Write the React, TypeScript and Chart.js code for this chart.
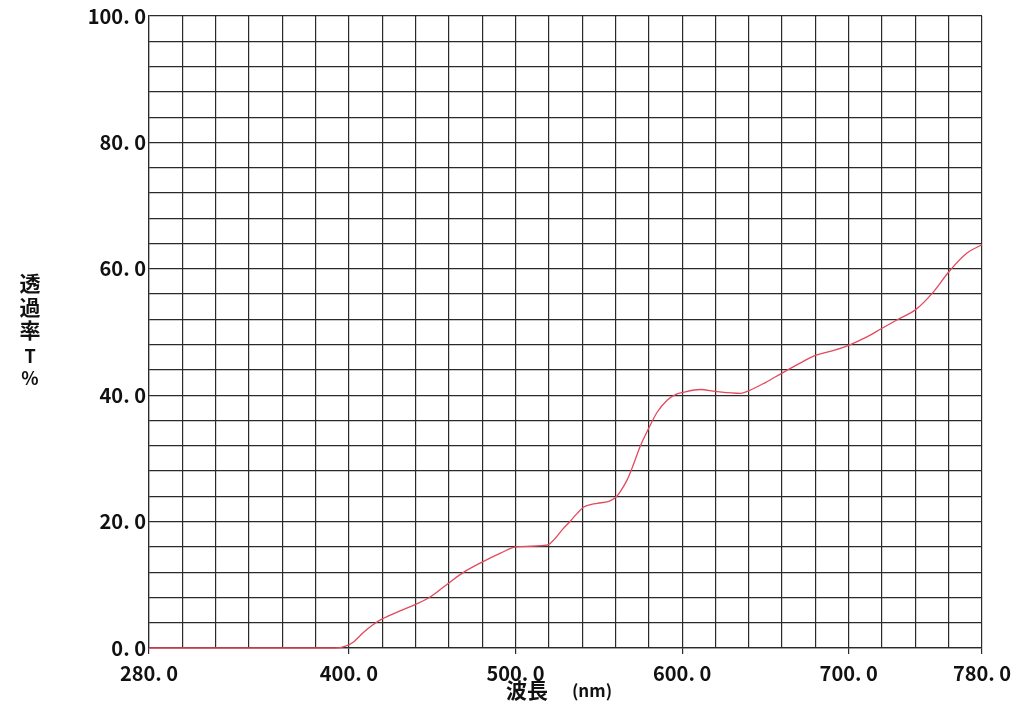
import { useEffect, useRef } from "react";
import { Chart, registerables } from "chart.js";

Chart.register(...registerables);

const wavelengths = [280, 300, 340, 380, 392, 398, 403, 408, 414, 420, 430, 440, 449, 460, 469, 480, 491, 500, 509, 516, 520, 524, 528, 533, 537, 541, 545, 549, 556, 560, 563, 567, 570, 575, 580, 585, 591, 596, 600, 611, 620, 635, 640, 650, 660, 673, 680, 690, 700, 710, 720, 731, 740, 751, 760, 771, 780];
const transmittance = [0, 0, 0, 0, 0, 0.3, 1.0, 2.3, 3.6, 4.6, 5.8, 6.9, 8.1, 10.3, 12.0, 13.6, 15.0, 16.0, 16.1, 16.2, 16.4, 17.4, 18.7, 20.1, 21.3, 22.3, 22.7, 22.9, 23.2, 23.8, 24.8, 26.6, 28.5, 32.0, 34.8, 37.3, 39.2, 40.1, 40.4, 40.9, 40.6, 40.3, 40.7, 42.0, 43.5, 45.4, 46.3, 47.0, 47.9, 49.1, 50.6, 52.2, 53.5, 56.4, 59.5, 62.5, 63.8];

const xLabelTicks = [280, 400, 500, 600, 700, 780];
const yLabelTicks = [0, 20, 40, 60, 80, 100];
const yTitleChars = ["透", "過", "率", "T", "%"];
const xTitleMain = "波長";
const xTitleUnit = "(nm)";

const FONT = "'Noto Sans CJK JP', 'Noto Sans', sans-serif";
const GRID = "#2a2a2a";

const fmt = (v: number) => `${v}. 0`;

const titlePlugin = {
  id: "titles",
  afterDraw(chart: any) {
    const ctx = chart.ctx;
    ctx.save();
    ctx.fillStyle = "#111";
    ctx.textAlign = "center";
    ctx.textBaseline = "middle";
    const ys = [283, 307, 330, 356, 378];
    yTitleChars.forEach((c, i) => {
      const big = i < 3;
      ctx.font = `bold ${big ? 21 : 18}px ${FONT}`;
      ctx.fillText(c, 30, ys[i]);
    });
    ctx.font = `bold 21px ${FONT}`;
    ctx.fillText(xTitleMain, 527, 690);
    ctx.font = `bold 17px ${FONT}`;
    ctx.fillText(xTitleUnit, 592, 691);
    ctx.restore();
  },
};

export default function App() {
  const ref = useRef<HTMLCanvasElement | null>(null);
  useEffect(() => {
    if (!ref.current) return;
    const chart = new Chart(ref.current, {
      type: "line",
      data: {
        datasets: [
          {
            data: wavelengths.map((w, i) => ({ x: w, y: transmittance[i] })),
            borderColor: "#e5485c",
            borderWidth: 1.3,
            pointRadius: 0,
            cubicInterpolationMode: "monotone",
            clip: 5,
          } as any,
        ],
      },
      options: {
        animation: false,
        responsive: false,
        plugins: { legend: { display: false }, tooltip: { enabled: false } },
        layout: { padding: { left: 0, right: 47, top: 16, bottom: 0 } },
        scales: {
          x: {
            type: "linear",
            min: 280,
            max: 780,
            afterFit: (s: any) => {
              s.height = 60;
            },
            ticks: {
              stepSize: 20,
              autoSkip: false,
              maxRotation: 0,
              padding: 7,
              color: "#111",
              font: { family: FONT, size: 20, weight: 600 as any },
              callback: (v: any) => (xLabelTicks.includes(Number(v)) ? fmt(Number(v)) : ""),
            },
            grid: {
              color: GRID,
              lineWidth: 1.2,
              drawTicks: true,
              tickLength: 6,
              tickColor: (c: any) => (c.tick && xLabelTicks.includes(c.tick.value) ? GRID : "rgba(0,0,0,0)"),
            },
            border: { color: GRID, width: 1.2 },
          },
          y: {
            type: "linear",
            min: 0,
            max: 100,
            afterFit: (s: any) => {
              s.width = 149;
            },
            ticks: {
              stepSize: 4,
              autoSkip: false,
              padding: 3,
              color: "#111",
              font: { family: FONT, size: 20, weight: 600 as any },
              callback: (v: any) => (yLabelTicks.includes(Number(v)) ? fmt(Number(v)) : ""),
            },
            grid: { color: GRID, lineWidth: 1.2, drawTicks: false },
            border: { color: GRID, width: 1.2 },
          },
        },
      },
      plugins: [titlePlugin],
    });
    return () => chart.destroy();
  }, []);
  return (
    <div style={{ position: "absolute", left: 0, top: 0, width: 1029, height: 708, background: "#fff" }}>
      <canvas ref={ref} width={1029} height={708} />
    </div>
  );
}
